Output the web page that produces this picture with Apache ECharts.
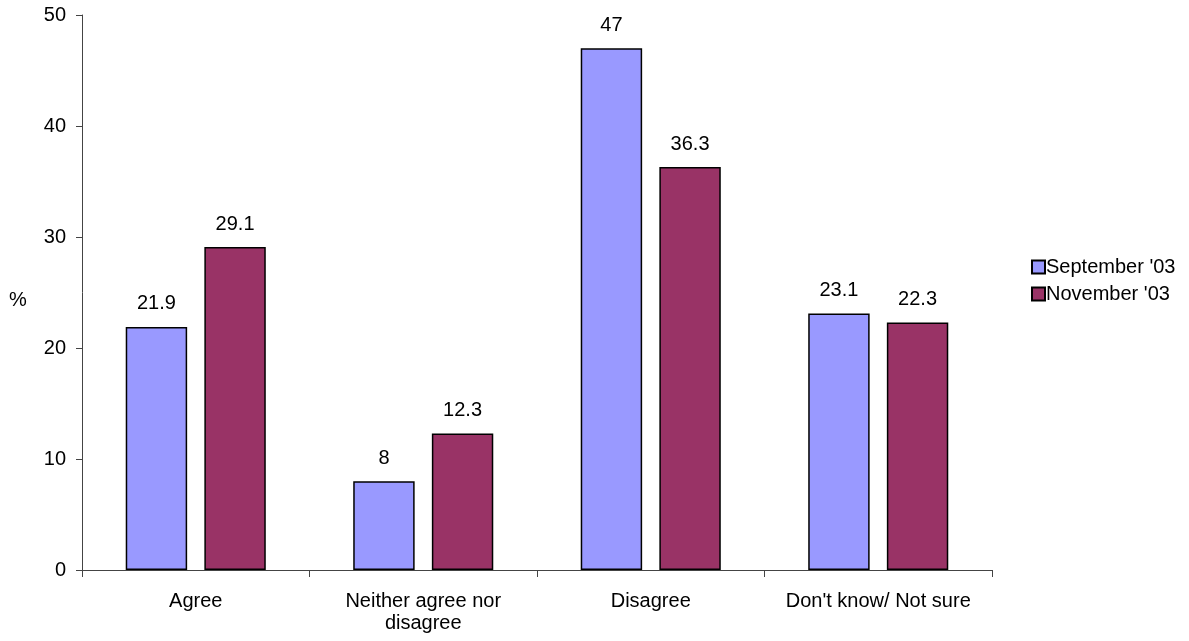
<!DOCTYPE html>
<html><head><meta charset="utf-8">
<script src="https://cdn.jsdelivr.net/npm/echarts@6/dist/echarts.min.js"></script>
<style>html,body{margin:0;padding:0;background:#fff}#c{width:1189px;height:641px}</style>
</head><body><div id="c"></div>
<script>
var categories = ["Agree", "Neither agree nor\ndisagree", "Disagree", "Don't know/ Not sure"];
var september = [21.9, 8, 47, 23.1];
var november = [29.1, 12.3, 36.3, 22.3];
var yTicks = [0, 10, 20, 30, 40, 50];
var font = "Liberation Sans, Arial, sans-serif";
var fs = 20;
var chart = echarts.init(document.getElementById('c'));
var lbl = {show:true, position:'top', distance:13, color:'#000', fontSize:fs, fontFamily:font};
chart.setOption({
  animation:false,
  grid:{left:82, right:197, top:15, bottom:71},
  legend:{orient:'vertical', left:1026, top:252, itemWidth:13, itemHeight:13, itemGap:7, icon:'rect',
    itemStyle:{borderColor:'#000', borderWidth:2},
    textStyle:{fontSize:fs, fontFamily:font, color:'#000', padding:[0,0,0,-4]},
    data:["September '03","November '03"]},
  graphic:[{type:'text', left:9, top:290, style:{text:'%', fontSize:fs, fontFamily:font, fill:'#000'}}],
  xAxis:{type:'category', data:categories,
    axisLine:{lineStyle:{color:'#444', width:1}},
    axisTick:{show:true, interval:0, length:7, lineStyle:{color:'#444'}},
    axisLabel:{interval:0, fontSize:fs, fontFamily:font, color:'#000', margin:20, lineHeight:22}},
  yAxis:{type:'value', min:0, max:50, interval:10,
    axisLine:{show:true, lineStyle:{color:'#444'}},
    axisTick:{show:true, length:6, lineStyle:{color:'#444'}},
    splitLine:{show:false},
    axisLabel:{fontSize:fs, fontFamily:font, color:'#000', margin:16,
      formatter:function(v){return yTicks.indexOf(v)>=0?String(v):'';}}},
  series:[
    {name:"September '03", type:'bar', data:september, barWidth:'27%', barGap:'28%',
     itemStyle:{color:'#9999FF', borderColor:'#000', borderWidth:1.5}, label:lbl},
    {name:"November '03", type:'bar', data:november, barWidth:'27%',
     itemStyle:{color:'#993366', borderColor:'#000', borderWidth:1.5}, label:lbl}
  ]
});
</script></body></html>
